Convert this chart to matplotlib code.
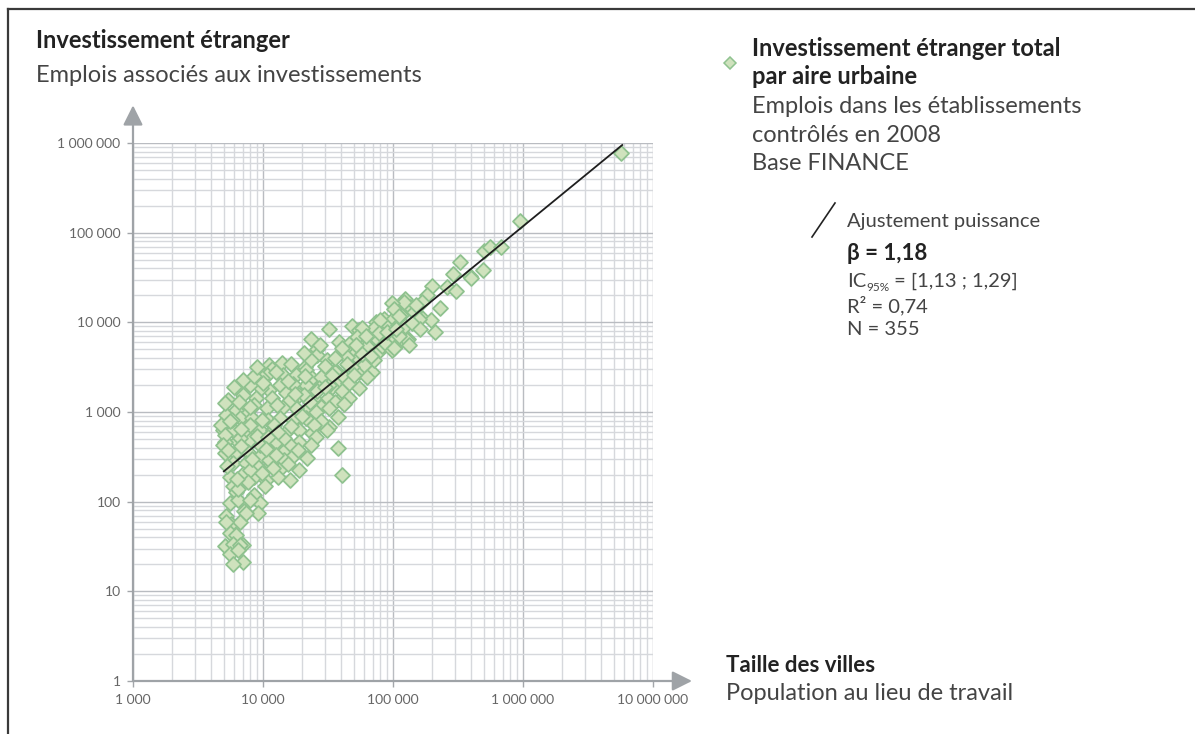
import numpy as np
import matplotlib
matplotlib.use("Agg")
import matplotlib.pyplot as plt
from matplotlib.lines import Line2D
from matplotlib.ticker import LogLocator, FuncFormatter, NullFormatter

plt.rcParams["font.family"] = ["Lato", "DejaVu Sans"]

W, H = 1195, 734

# population at place of work (x) and foreign-controlled jobs (y)
POP = [
    5650000, 950000, 500000, 560000, 680000, 330000, 490000, 290000, 390000, 400000,
    200000, 260000, 305000, 183000, 124000, 168000, 230000, 117000, 120000, 163000,
    196000, 210000, 131000, 114000, 136000, 121000, 145000, 98000, 159000, 115000,
    85000, 98000, 74000, 88000, 110000, 32000, 48000, 55000, 65000, 78000,
    83000, 99000, 118000, 128000, 23400, 26000, 38500, 41000, 50000, 57000,
    60000, 70000, 80000, 48000, 11200, 14000, 16500, 21000, 102000, 111000,
    72000, 80000, 124000, 150000, 58000, 53000, 46000, 65500, 76000, 97000,
    63000, 83000, 133000, 26000, 52000, 62000, 78000, 88000, 111000, 98000,
    52000, 44000, 62000, 69000, 55000, 36000, 21500, 11800, 10700, 14300,
    18000, 24000, 28000, 38500, 45000, 34000, 27100, 21500, 17000, 13400,
    11200, 9650, 8800, 11800, 15000, 19000, 24800, 31500, 40500, 28000,
    22700, 18000, 14300, 10700, 7400, 6200, 5400, 5200, 6600, 8300,
    10900, 13400, 17000, 21500, 26300, 32300, 37500, 4900, 5850, 7400,
    9400, 11900, 15000, 19000, 24000, 19000, 16000, 12600, 9950, 7900,
    6300, 5070, 5070, 6050, 7600, 9400, 11600, 14300, 17000, 21800,
    37500, 40500, 5850, 7400, 9100, 11600, 13800, 19000, 5530, 7000,
    8600, 10600, 13000, 5850, 6200, 8600, 9400, 5530, 6400, 5200,
    5700, 7200, 9100, 6600, 5530, 6200, 7000, 5070, 5850, 5530,
    7000, 5850, 6400, 8000, 5200, 7400, 6600, 6400, 40500, 71500,
    60000, 48000, 35500, 42000, 63000, 32300, 46000, 55000, 40500, 46000,
    36000, 42000, 32300, 25500, 28000, 24800, 31000, 25500, 102000, 5070,
    4750, 5070, 4900, 9800, 23500, 7900, 7000, 8600, 16000, 20800,
    12800, 9800, 5800, 7900, 12200, 6600, 14600, 9400, 23600, 11200,
    14600, 7900, 16000, 10300, 20800, 27500, 31000, 6000, 7000, 8500,
    9000, 6500, 8000, 10000, 12500, 15500, 5600, 6800, 9000, 11000,
    13000, 16500, 20000, 23000, 26000, 30000, 34000, 5400, 6800, 8200,
    10500, 12500, 15500, 18500, 7600, 9800, 12000, 5300, 6300, 17500,
    21000, 30000, 36000, 44000, 50000, 58000, 68000, 90000, 105000, 140000,
    160000,
]
JOBS = [
    770000, 135000, 63000, 69000, 70000, 47000, 38000, 35000, 33000, 31000,
    25500, 25000, 22500, 20000, 18000, 17000, 14600, 15000, 12600, 11600,
    10600, 7900, 6500, 6100, 15000, 17000, 13000, 16600, 11000, 12000,
    11000, 10600, 10200, 9000, 9300, 8400, 9000, 8200, 7500, 8100,
    6600, 6100, 6600, 6400, 6600, 5000, 6100, 4900, 6400, 6400,
    4900, 5300, 4900, 4500, 3350, 3550, 3450, 3200, 14000, 11700,
    8700, 10500, 9000, 15800, 8700, 6900, 5800, 6400, 6400, 7000,
    5400, 5400, 5600, 4330, 5600, 7000, 7600, 5800, 7000, 4900,
    3800, 4100, 3500, 2800, 2800, 2950, 2950, 3000, 2590, 2590,
    2590, 2370, 2450, 2280, 2100, 1900, 1850, 2000, 2050, 2000,
    1760, 1830, 1420, 1420, 1620, 1550, 1420, 1420, 1480, 1150,
    1100, 1100, 1150, 1100, 1055, 1055, 1370, 930, 860, 860,
    816, 860, 816, 860, 760, 680, 890, 630, 630, 605,
    630, 630, 605, 630, 580, 460, 430, 460, 470, 490,
    470, 460, 350, 350, 360, 320, 360, 360, 320, 305,
    400, 200, 270, 270, 245, 257, 235, 226, 190, 205,
    190, 175, 190, 148, 128, 119, 97, 97, 105, 69,
    57, 78, 74, 60, 45, 43, 33, 32, 34, 26,
    21, 20, 138, 105, 60, 74, 33, 29, 5200, 3800,
    3350, 3200, 2800, 2450, 2450, 2000, 2100, 1850, 1700, 1420,
    1300, 1240, 1100, 1000, 790, 720, 630, 530, 5200, 1250,
    720, 555, 430, 2400, 3800, 2000, 1550, 1200, 1370, 1550,
    1200, 816, 816, 718, 718, 510, 510, 430, 430, 292,
    292, 226, 175, 150, 4600, 5600, 3800, 1900, 2300, 2500,
    3200, 1300, 1150, 2100, 2800, 2200, 800, 650, 540, 520,
    600, 700, 900, 1300, 1700, 1900, 2600, 380, 420, 300,
    390, 330, 260, 380, 165, 210, 240, 250, 180, 1600,
    2500, 3300, 4000, 3400, 2600, 4400, 4200, 7800, 8500, 9800,
    8400,
]

# power-law fit line end points (beta = 1.18)
FIT_POP = [5000, 5800000]
FIT_JOBS = [218, 950000]

X_TICKS = [1e3, 1e4, 1e5, 1e6, 1e7]
Y_TICKS = [1, 10, 100, 1e3, 1e4, 1e5, 1e6]


def fx(x):
    return x / W


def fy(y):
    return 1 - y / H


def thousands(v, pos=None):
    return "{:,}".format(int(round(v))).replace(",", " ")


fig = plt.figure(figsize=(W / 100, H / 100), dpi=100)
ax = fig.add_axes([fx(133), fy(681), fx(653) - fx(133), fy(143) - fy(681)])
ax.set_xscale("log")
ax.set_yscale("log")
ax.set_xlim(1e3, 1e7)
ax.set_ylim(1, 1e6)

ax.xaxis.set_minor_locator(LogLocator(base=10, subs=np.arange(2, 10), numticks=100))
ax.yaxis.set_minor_locator(LogLocator(base=10, subs=np.arange(2, 10), numticks=100))
ax.set_xticks(X_TICKS)
ax.set_yticks(Y_TICKS)
ax.xaxis.set_major_formatter(FuncFormatter(thousands))
ax.yaxis.set_major_formatter(FuncFormatter(thousands))
ax.xaxis.set_minor_formatter(NullFormatter())
ax.yaxis.set_minor_formatter(NullFormatter())

ax.grid(which="major", color="#b9bcc1", lw=1.0, zorder=0)
ax.grid(which="minor", color="#d6d8dc", lw=1.0, zorder=0)
ax.set_axisbelow(True)
for s in ax.spines.values():
    s.set_visible(False)

ax.tick_params(which="major", length=4, width=1, color="#a3a6aa", pad=5,
               labelsize=10, labelcolor="#666666")
ax.tick_params(which="minor", length=0)

# axes with arrows
arrow_kw = dict(arrowstyle="-|>", color="#9fa3a7", lw=1.6, mutation_scale=30,
                shrinkA=0, shrinkB=0)
ax.annotate("", xy=(0, 1.07), xytext=(0, 0), xycoords="axes fraction",
            arrowprops=arrow_kw, annotation_clip=False)
ax.annotate("", xy=(1.075, 0), xytext=(0, 0), xycoords="axes fraction",
            arrowprops=arrow_kw, annotation_clip=False)

ax.scatter(POP, JOBS, marker="D", s=58, facecolor="#cfe2bd", edgecolor="#8fc28f",
           linewidths=1.3, zorder=3, clip_on=False)
ax.plot(FIT_POP, FIT_JOBS, color="#1e1e1e", lw=1.3, zorder=4)

# frame lines
fig.add_artist(Line2D([fx(8), 1], [fy(9), fy(9)], color="#3a3a3a", lw=1.6))
fig.add_artist(Line2D([fx(8), fx(8)], [fy(9), 0], color="#3a3a3a", lw=1.6))

dark = "#222222"
grey = "#444444"
big = 17

fig.text(fx(36), fy(48), "Investissement étranger", fontsize=big, fontweight="bold",
         color=dark, va="baseline")
fig.text(fx(36), fy(82), "Emplois associés aux investissements", fontsize=big,
         color=grey, va="baseline")

fig.text(fx(726), fy(672), "Taille des villes", fontsize=16, fontweight="bold",
         color=dark, va="baseline")
fig.text(fx(726), fy(700), "Population au lieu de travail", fontsize=big,
         color=grey, va="baseline")

# legend block
fig.add_artist(Line2D([fx(730)], [fy(63)], marker="D", markersize=6.5,
                      markerfacecolor="#cfe2bd", markeredgecolor="#8fc28f",
                      markeredgewidth=1.1, linestyle="none"))
fig.text(fx(752), fy(56), "Investissement étranger total", fontsize=big,
         fontweight="bold", color=dark, va="baseline")
fig.text(fx(752), fy(84), "par aire urbaine", fontsize=big,
         fontweight="bold", color=dark, va="baseline")
fig.text(fx(752), fy(113), "Emplois dans les établissements", fontsize=big,
         color=grey, va="baseline")
fig.text(fx(752), fy(142), "contrôlés en 2008", fontsize=big,
         color=grey, va="baseline")
fig.text(fx(752), fy(170), "Base FINANCE", fontsize=big,
         color=grey, va="baseline")

small = 14.5
fig.add_artist(Line2D([fx(812), fx(835)], [fy(237), fy(203)], color="#222222", lw=1.2))
fig.text(fx(847), fy(227), "Ajustement puissance", fontsize=small, color=grey,
         va="baseline")
fig.text(fx(847), fy(260), "β = 1,18", fontsize=16, fontweight="bold",
         color=dark, va="baseline")
ic = fig.text(fx(847), fy(287), "IC", fontsize=small, color=grey, va="baseline")
sub = ax.annotate("95%", xy=(1, 0), xycoords=ic, xytext=(0, -2.5),
                  textcoords="offset points", fontsize=8.5, color=grey,
                  ha="left", va="bottom", annotation_clip=False)
ax.annotate(" = [1,13 ; 1,29]", xy=(1, 0), xycoords=(sub, ic), fontsize=small,
            color=grey, ha="left", va="bottom", annotation_clip=False)
fig.text(fx(847), fy(312), "R² = 0,74", fontsize=small, color=grey, va="baseline")
fig.text(fx(847), fy(335), "N = 355", fontsize=small, color=grey, va="baseline")

fig.savefig("out.png", dpi=100, facecolor="white")
